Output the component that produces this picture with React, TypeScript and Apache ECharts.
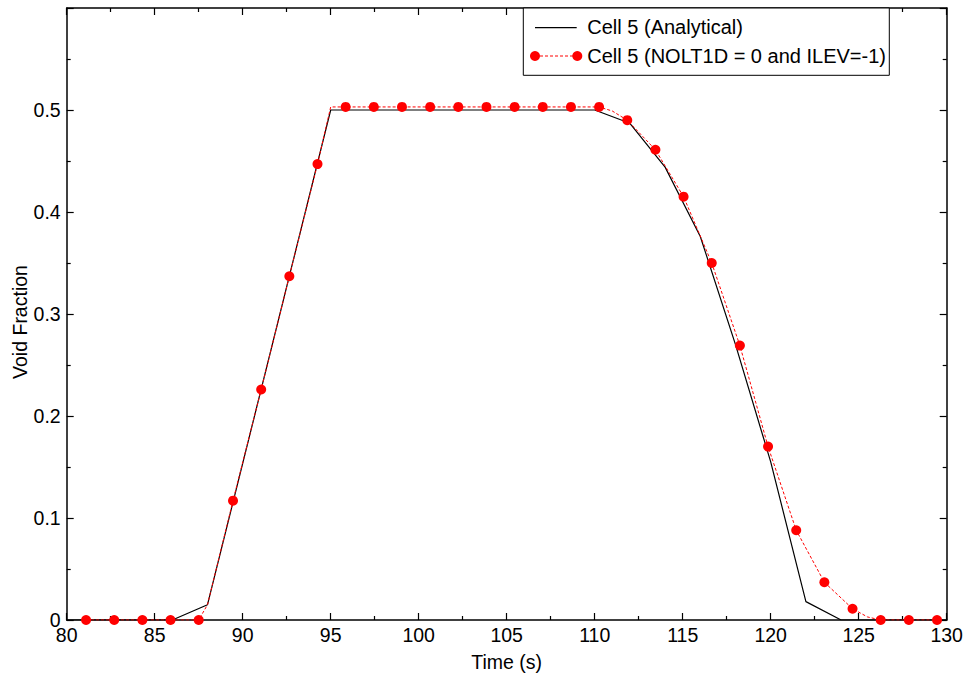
import React, { useEffect, useRef } from "react";
import * as echarts from "echarts";

// Analytical solution (time, void fraction)
const analyticalT = [80, 86, 88, 95, 110, 112, 114, 116, 118, 120, 122, 124, 130];
const analyticalV = [0, 0, 0.015, 0.5, 0.5, 0.487, 0.444, 0.376, 0.27, 0.155, 0.018, 0, 0];

// Computed (markers)
const computedT = [81.1, 82.7, 84.3, 85.9, 87.5, 89.45, 91.05, 92.65, 94.25, 95.85, 97.45, 99.05, 100.65, 102.25, 103.85, 105.45, 107.05, 108.65, 110.25, 111.85, 113.45, 115.05, 116.65, 118.25, 119.85, 121.45, 123.05, 124.65, 126.25, 127.85, 129.45];
const computedV = [0, 0, 0, 0, 0, 0.117, 0.226, 0.337, 0.447, 0.503, 0.503, 0.503, 0.503, 0.503, 0.503, 0.503, 0.503, 0.503, 0.503, 0.49, 0.461, 0.415, 0.35, 0.269, 0.17, 0.088, 0.037, 0.011, 0, 0, 0];

// Computed dashed curve (denser, as drawn)
const curveT = [81.1, 82.7, 84.3, 85.9, 87.5, 88.0, 89.45, 91.05, 92.65, 94.25, 95.0, 95.85, 110.25, 111.0, 111.85, 113.45, 115.05, 116.65, 118.25, 119.85, 121.45, 123.05, 124.65, 125.5, 126.25, 127.85, 129.45];
const curveV = [0, 0, 0, 0, 0, 0.015, 0.117, 0.226, 0.337, 0.447, 0.503, 0.503, 0.503, 0.499, 0.49, 0.461, 0.415, 0.35, 0.269, 0.17, 0.088, 0.037, 0.011, 0.003, 0, 0, 0];

const xTicks = { min: 80, max: 130, interval: 5 };
const yTicks = { min: 0, max: 0.6, interval: 0.1 };

const FONT = "Liberation Sans, Arial, sans-serif";

export default function App() {
  const ref = useRef<HTMLDivElement>(null);
  useEffect(() => {
    if (!ref.current) return;
    const chart = echarts.init(ref.current, null, { renderer: "svg" });
    const axisLine = { show: true, onZero: false, lineStyle: { color: "#000", width: 1.5 } };
    const axisTick = { show: true, inside: true, length: 7, lineStyle: { color: "#000", width: 1.2 } };
    const minorTick = { show: true, splitNumber: 2, length: 4, lineStyle: { color: "#000", width: 1.2 } };
    const label = { color: "#000", fontSize: 19.5, fontFamily: FONT };
    const grid = { left: 66.7, right: 19.3, top: 8, bottom: 57 };
    const plotW = 966 - grid.left - grid.right;
    const lx = 523.3, ly = 8, lw = 366, lh = 67.3;
    chart.setOption({
      animation: false,
      backgroundColor: "#fff",
      grid: { ...grid, containLabel: false },
      xAxis: [
        {
          type: "value", position: "bottom", ...xTicks,
          axisLine, axisTick, minorTick, splitLine: { show: false },
          axisLabel: { ...label, margin: 5 },
        },
        {
          type: "value", position: "top", ...xTicks,
          axisLine, axisTick, minorTick, splitLine: { show: false },
          axisLabel: { show: false },
        },
      ],
      yAxis: [
        {
          type: "value", position: "left", ...yTicks,
          axisLine, axisTick, minorTick, splitLine: { show: false },
          axisLabel: {
            ...label, margin: 6,
            formatter: (v: number) => (v > 0.59 ? "" : String(+v.toFixed(1))),
          },
        },
        {
          type: "value", position: "right", ...yTicks,
          axisLine, axisTick, minorTick, splitLine: { show: false },
          axisLabel: { show: false },
        },
      ],
      series: [
        {
          name: "Cell 5 (Analytical)", type: "line",
          data: analyticalT.map((t, i) => [t, analyticalV[i]]),
          showSymbol: false, symbol: "none",
          lineStyle: { color: "#000", width: 1.2 }, z: 3,
        },
        {
          name: "curve", type: "line",
          data: curveT.map((t, i) => [t, curveV[i]]),
          showSymbol: false, symbol: "none",
          lineStyle: { color: "#ff0000", width: 1, type: [3, 2] }, z: 4,
        },
        {
          name: "Cell 5 (NOLT1D = 0 and ILEV=-1)", type: "scatter",
          data: computedT.map((t, i) => [t, computedV[i]]),
          symbol: "circle", symbolSize: 10,
          itemStyle: { color: "#ff0000", opacity: 1 }, z: 5,
        },
      ],
      graphic: [
        {
          type: "text",
          x: grid.left + plotW / 2, y: 662,
          style: { text: "Time (s)", fontSize: 19.5, fontFamily: FONT, fill: "#000", textAlign: "center", textVerticalAlign: "middle" },
        },
        {
          type: "text", x: 20, y: 322, rotation: Math.PI / 2,
          style: { text: "Void Fraction", fontSize: 19.5, fontFamily: FONT, fill: "#000", textAlign: "center", textVerticalAlign: "middle" },
        },
        {
          type: "rect", shape: { x: lx, y: ly, width: lw, height: lh }, z: 10,
          style: { fill: "#fff", stroke: "#000", lineWidth: 1 },
        },
        {
          type: "line", shape: { x1: 535, y1: 27.7, x2: 576.7, y2: 27.7 }, z: 11,
          style: { stroke: "#000", lineWidth: 1.2 },
        },
        {
          type: "text", x: 587.3, y: 27, z: 11,
          style: { text: "Cell 5 (Analytical)", fontSize: 20, fontFamily: FONT, fill: "#000", textVerticalAlign: "middle" },
        },
        {
          type: "line", shape: { x1: 535, y1: 56, x2: 577.3, y2: 56 }, z: 11,
          style: { stroke: "#ff0000", lineWidth: 1, lineDash: [3, 2] },
        },
        { type: "circle", shape: { cx: 535, cy: 56, r: 5 }, z: 12, style: { fill: "#ff0000" } },
        { type: "circle", shape: { cx: 577.3, cy: 56, r: 5 }, z: 12, style: { fill: "#ff0000" } },
        {
          type: "text", x: 587.3, y: 55.5, z: 11,
          style: { text: "Cell 5 (NOLT1D = 0 and ILEV=-1)", fontSize: 20, fontFamily: FONT, fill: "#000", textVerticalAlign: "middle" },
        },
      ],
    });
    return () => chart.dispose();
  }, []);
  return (
    <div
      ref={ref}
      style={{ position: "fixed", left: 0, top: 0, width: 966, height: 677, background: "#fff" }}
    />
  );
}
